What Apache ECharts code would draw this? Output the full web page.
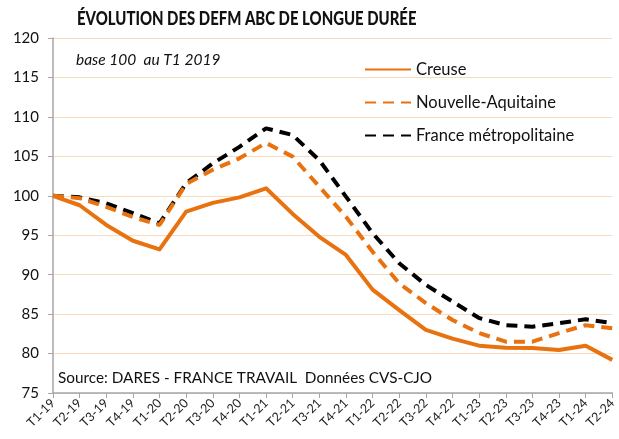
<!DOCTYPE html>
<html>
<head>
<meta charset="utf-8">
<script src="https://cdn.jsdelivr.net/npm/echarts@6/dist/echarts.min.js"></script>
<style>html,body{margin:0;padding:0;background:#fff}#main{width:619px;height:439px}</style>
</head>
<body>
<div id="main"></div>
<script>
var trimestres = ['T1-19','T2-19','T3-19','T4-19','T1-20','T2-20','T3-20','T4-20','T1-21','T2-21','T3-21','T4-21',
                  'T1-22','T2-22','T3-22','T4-22','T1-23','T2-23','T3-23','T4-23','T1-24','T2-24'];
var creuse = [100, 98.8, 96.3, 94.3, 93.2, 98.0, 99.1, 99.8, 100.95, 97.7, 94.8, 92.5,
              88.1, 85.5, 83.0, 81.9, 81.0, 80.75, 80.7, 80.45, 81.0, 79.2];
var nouvelleAquitaine = [100, 99.7, 98.6, 97.3, 96.3, 101.5, 103.3, 104.75, 106.7, 104.96, 101.15, 97.35,
                         92.9, 88.9, 86.4, 84.25, 82.6, 81.5, 81.5, 82.6, 83.6, 83.2];
var franceMetro = [100, 99.8, 99.05, 97.8, 96.5, 101.6, 104.1, 106.2, 108.55, 107.7, 104.5, 99.9,
                   95.25, 91.45, 88.7, 86.6, 84.5, 83.6, 83.4, 83.85, 84.35, 83.85];

var orange = '#E8720F';
var police = 'Lato, "Open Sans", sans-serif';
var myChart = echarts.init(document.getElementById('main'));
var opt = {
    animation: false,
    textStyle: { fontFamily: police },
    legend: {
        orient: 'vertical',
        left: 359, top: 56,
        itemWidth: 46, itemHeight: 10,
        itemGap: 16,
        itemStyle: { opacity: 0 },
        textStyle: { fontSize: 16.5, color: '#111', fontFamily: police },
        data: ['Creuse', 'Nouvelle-Aquitaine', 'France métropolitaine']
    },
    grid: { left: 53, right: 1, top: 38, bottom: 46 },
    xAxis: {
        type: 'category',
        data: trimestres,
        boundaryGap: false,
        axisLine: { lineStyle: { color: '#a6a6a6', width: 1.5 } },
        axisTick: { show: true, alignWithLabel: true, lineStyle: { color: '#a6a6a6' }, length: 5 },
        axisLabel: { rotate: 45, fontSize: 12.5, color: '#222', margin: 8, interval: 0 },
        splitLine: { show: false }
    },
    yAxis: {
        type: 'value',
        min: 75, max: 120, interval: 5,
        axisLine: { show: true, lineStyle: { color: '#a6a6a6', width: 1.5 } },
        axisTick: { show: true, lineStyle: { color: '#a6a6a6' }, length: 5 },
        axisLabel: { fontSize: 15, color: '#111', margin: 14 },
        splitLine: { lineStyle: { color: '#fbd9bb', width: 1 } }
    },
    graphic: [
        // titre : police large compressée pour imiter un Calibri gras
        { type: 'text', x: 77, y: 9, scaleX: 0.765,
          style: { text: 'ÉVOLUTION DES DEFM ABC DE LONGUE DURÉE', font: '900 19.5px ' + police, fill: '#111' } },
        { type: 'text', left: 76, top: 52, style: { text: 'base 100  au T1 2019', font: 'italic 15.5px ' + police, fill: '#111' } },
        { type: 'text', left: 58, top: 371, style: { text: 'Source: DARES - FRANCE TRAVAIL  Données CVS-CJO', font: '15.3px ' + police, fill: '#111' } }
    ],
    series: [
        {
            name: 'Creuse', type: 'line', data: creuse, symbol: 'none', z: 3,
            lineStyle: { color: orange, width: 4, join: 'round' },
            itemStyle: { color: orange }
        },
        {
            name: 'Nouvelle-Aquitaine', type: 'line', data: nouvelleAquitaine, symbol: 'none', z: 2,
            lineStyle: { color: orange, width: 4, type: [11, 7] },
            itemStyle: { color: orange }
        },
        {
            name: 'France métropolitaine', type: 'line', data: franceMetro, symbol: 'none', z: 1,
            lineStyle: { color: '#000', width: 4, type: [11, 7] },
            itemStyle: { color: '#000' }
        }
    ]
};
myChart.setOption(opt);
</script>
</body>
</html>
